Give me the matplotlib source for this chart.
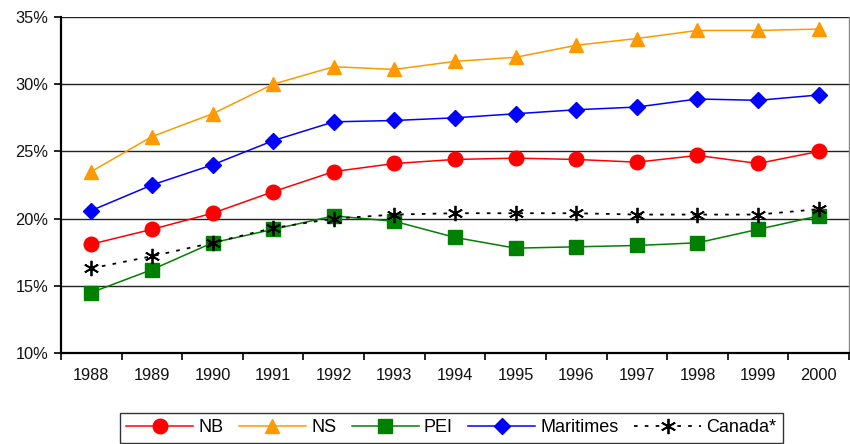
import matplotlib
matplotlib.use('Agg')
import matplotlib.pyplot as plt
from matplotlib.ticker import FixedLocator, FuncFormatter

plt.rcParams['font.family'] = ['Liberation Sans', 'DejaVu Sans']

years = ['1988', '1989', '1990', '1991', '1992', '1993', '1994',
         '1995', '1996', '1997', '1998', '1999', '2000']
nb = [18.1, 19.2, 20.4, 22.0, 23.5, 24.1, 24.4, 24.5, 24.4, 24.2, 24.7, 24.1, 25.0]
ns = [23.5, 26.1, 27.8, 30.0, 31.3, 31.1, 31.7, 32.0, 32.9, 33.4, 34.0, 34.0, 34.1]
pei = [14.5, 16.2, 18.2, 19.2, 20.2, 19.8, 18.6, 17.8, 17.9, 18.0, 18.2, 19.2, 20.2]
maritimes = [20.6, 22.5, 24.0, 25.8, 27.2, 27.3, 27.5, 27.8, 28.1, 28.3, 28.9, 28.8, 29.2]
canada = [16.3, 17.2, 18.2, 19.3, 20.0, 20.3, 20.4, 20.4, 20.4, 20.3, 20.3, 20.3, 20.7]

fig = plt.figure(figsize=(8.5, 4.44), dpi=100)
ax = fig.add_axes([61/850, 1 - 353/444, 788/850, 336/444])

x = list(range(len(years)))
ax.plot(x, nb, color='#FF0000', lw=1.1, marker='o', ms=10.5, label='NB', zorder=4)
ax.plot(x, ns, color='#FF9900', lw=1.1, marker='^', ms=10.5, label='NS', zorder=4)
ax.plot(x, pei, color='#008000', lw=1.1, marker='s', ms=9.5, label='PEI', zorder=4)
ax.plot(x, maritimes, color='#0000FF', lw=1.1, marker='D', ms=8, label='Maritimes', zorder=4)
ax.plot(x, canada, color='black', lw=1.3, ls=(0, (2, 4)), marker=(6, 2, 0), ms=11,
        mew=1.3, label='Canada*', zorder=5)

ax.set_xlim(-0.5, len(years) - 0.5)
ax.set_ylim(10, 35)
ax.set_yticks([10, 15, 20, 25, 30, 35])
ax.yaxis.set_major_formatter(FuncFormatter(lambda v, p: '%d%%' % v))
ax.xaxis.set_major_locator(FixedLocator([i - 0.5 for i in range(len(years) + 1)]))
ax.xaxis.set_minor_locator(FixedLocator(x))
ax.set_xticklabels([])
ax.set_xticklabels(years, minor=True)
ax.tick_params(axis='x', which='major', direction='out', length=5, width=1.2, color='black')
ax.tick_params(axis='x', which='minor', length=0, pad=11, labelsize=11.8, labelcolor='#111111')
ax.tick_params(axis='y', direction='out', length=5, width=1.2, pad=4, labelsize=11.8,
               labelcolor='#111111')

for v in [15, 20, 25, 30, 35]:
    ax.axhline(v, color='#222222', lw=1.0, zorder=1)

for s in ['left', 'bottom']:
    ax.spines[s].set_linewidth(1.6)
    ax.spines[s].set_color('black')
ax.spines['top'].set_visible(False)
ax.spines['right'].set_color('#888888')
ax.spines['right'].set_linewidth(1.0)

leg = fig.legend(loc='upper left', bbox_to_anchor=(120/850, 1 - 413/444), ncol=5,
                 fontsize=13, frameon=True, fancybox=False, shadow=False,
                 handlelength=3.7, handletextpad=0.3, columnspacing=0.85,
                 borderpad=0.35, borderaxespad=0)
leg.get_frame().set_edgecolor('black')
leg.get_frame().set_linewidth(1.0)

fig.savefig('out.png', dpi=100)
